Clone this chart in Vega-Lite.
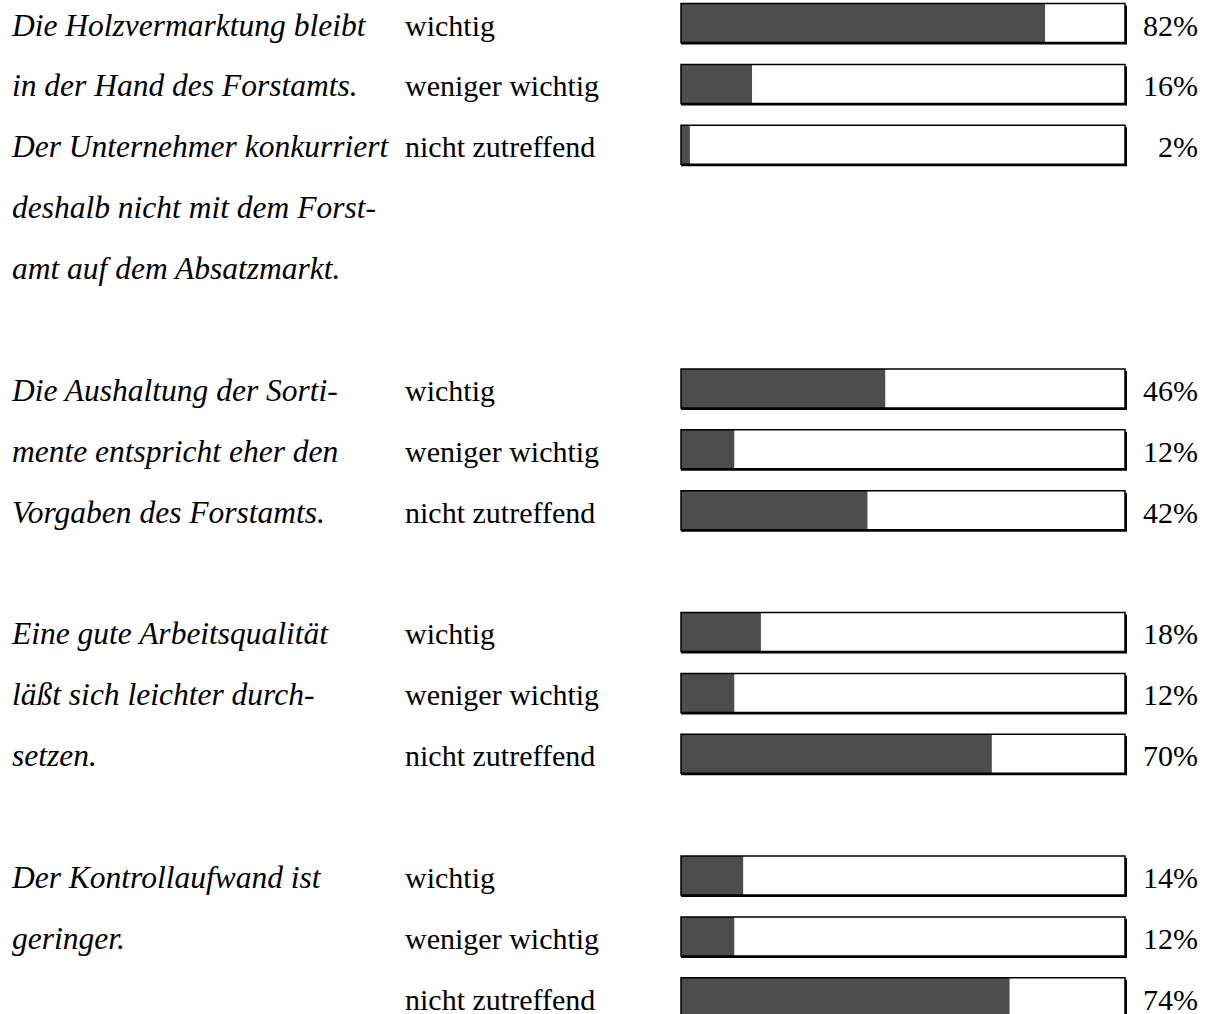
{
  "$schema": "https://vega.github.io/schema/vega-lite/v6.json",
  "width": 1211,
  "height": 1014,
  "autosize": {"type": "none"},
  "padding": 0,
  "background": "white",
  "config": {"view": {"stroke": null}},
  "datasets": {
    "bars": [
      {"row": 0, "cat": "wichtig", "pct": 0.82},
      {"row": 1, "cat": "weniger wichtig", "pct": 0.16},
      {"row": 2, "cat": "nicht zutreffend", "pct": 0.02},
      {"row": 6, "cat": "wichtig", "pct": 0.46},
      {"row": 7, "cat": "weniger wichtig", "pct": 0.12},
      {"row": 8, "cat": "nicht zutreffend", "pct": 0.42},
      {"row": 10, "cat": "wichtig", "pct": 0.18},
      {"row": 11, "cat": "weniger wichtig", "pct": 0.12},
      {"row": 12, "cat": "nicht zutreffend", "pct": 0.70},
      {"row": 14, "cat": "wichtig", "pct": 0.14},
      {"row": 15, "cat": "weniger wichtig", "pct": 0.12},
      {"row": 16, "cat": "nicht zutreffend", "pct": 0.74}
    ],
    "lines": [
      {"row": 0, "text": "Die Holzvermarktung bleibt"},
      {"row": 1, "text": "in der Hand des Forstamts."},
      {"row": 2, "text": "Der Unternehmer konkurriert"},
      {"row": 3, "text": "deshalb nicht mit dem Forst-"},
      {"row": 4, "text": "amt auf dem Absatzmarkt."},
      {"row": 6, "text": "Die Aushaltung der Sorti-"},
      {"row": 7, "text": "mente entspricht eher den"},
      {"row": 8, "text": "Vorgaben des Forstamts."},
      {"row": 10, "text": "Eine gute Arbeitsqualität"},
      {"row": 11, "text": "läßt sich leichter durch-"},
      {"row": 12, "text": "setzen."},
      {"row": 14, "text": "Der Kontrollaufwand ist"},
      {"row": 15, "text": "geringer."}
    ]
  },
  "layer": [
    {
      "data": {"name": "bars"},
      "mark": {"type": "bar", "orient": "horizontal", "color": "#000000", "height": 39, "xOffset": 2, "yOffset": 2},
      "encoding": {
        "y": {"field": "row", "type": "quantitative", "scale": {"domain": [-0.3777, 16.273], "reverse": true, "nice": false, "zero": false, "padding": 0}, "axis": null},
        "x": {"datum": 1, "type": "quantitative", "scale": {"domain": [-1.5338, 1.1937], "nice": false, "zero": false, "padding": 0}, "axis": null}
      }
    },
    {
      "data": {"name": "bars"},
      "mark": {"type": "bar", "orient": "horizontal", "color": "#ffffff", "height": 39},
      "encoding": {
        "y": {"field": "row", "type": "quantitative"},
        "x": {"datum": 1, "type": "quantitative"}
      }
    },
    {
      "data": {"name": "bars"},
      "mark": {"type": "bar", "orient": "horizontal", "color": "#4d4d4d", "height": 39},
      "encoding": {
        "y": {"field": "row", "type": "quantitative"},
        "x": {"field": "pct", "type": "quantitative"}
      }
    },
    {
      "data": {"name": "bars"},
      "mark": {"type": "bar", "orient": "horizontal", "fill": "#ffffff", "fillOpacity": 0, "stroke": "#000000", "strokeWidth": 1.5, "height": 39},
      "encoding": {
        "y": {"field": "row", "type": "quantitative"},
        "x": {"datum": 1, "type": "quantitative"}
      }
    },
    {
      "data": {"name": "bars"},
      "mark": {"type": "text", "font": "Liberation Serif", "fontSize": 30, "align": "left", "baseline": "alphabetic", "dy": 12.5, "color": "#000000"},
      "encoding": {
        "y": {"field": "row", "type": "quantitative"},
        "x": {"datum": -0.6216, "type": "quantitative"},
        "text": {"field": "cat"}
      }
    },
    {
      "data": {"name": "bars"},
      "mark": {"type": "text", "font": "Liberation Serif", "fontSize": 30, "align": "right", "baseline": "alphabetic", "dy": 12.5, "color": "#000000"},
      "encoding": {
        "y": {"field": "row", "type": "quantitative"},
        "x": {"datum": 1.1644, "type": "quantitative"},
        "text": {"field": "pct", "type": "quantitative", "format": ".0%"}
      }
    },
    {
      "data": {"name": "lines"},
      "mark": {"type": "text", "font": "Liberation Serif", "fontStyle": "italic", "fontSize": 31.5, "align": "left", "baseline": "alphabetic", "dy": 12.5, "color": "#000000"},
      "encoding": {
        "y": {"field": "row", "type": "quantitative"},
        "x": {"datum": -1.5068, "type": "quantitative"},
        "text": {"field": "text"}
      }
    }
  ]
}
